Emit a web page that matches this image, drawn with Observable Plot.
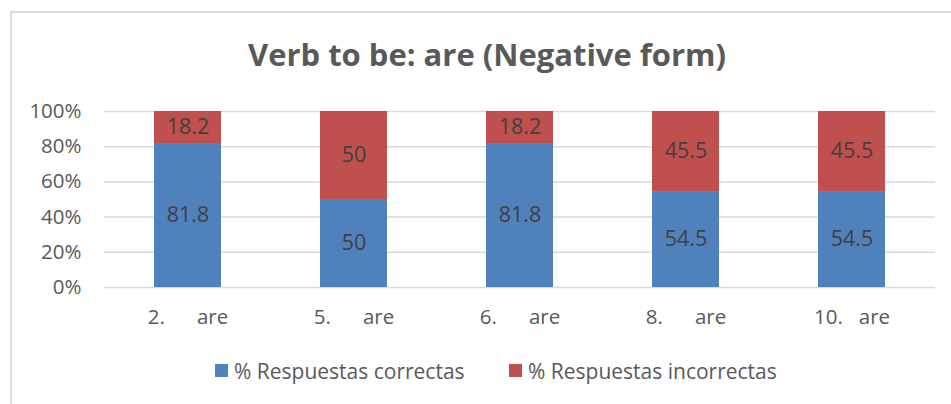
<!DOCTYPE html>
<html>
<head>
<meta charset="utf-8">
<script src="https://cdn.jsdelivr.net/npm/d3@7"></script>
<script src="https://cdn.jsdelivr.net/npm/@observablehq/plot@0.6"></script>
<style>
  body { margin: 0; background: #fff; }
  #wrap { position: relative; width: 951px; height: 404px; overflow: hidden; background: #fff; font-family: 'Open Sans', sans-serif; }
  #frame { position: absolute; left: 10px; top: 11px; width: 1000px; height: 500px; border-left: 2px solid #dcdcdc; border-top: 2px solid #dcdcdc; }
  #title { position: absolute; left: 0; top: 0; }
  #chart { position: absolute; left: 0; top: 0; }
  .leg { position: absolute; top: 357px; font-size: 21px; color: #595959; white-space: nowrap; line-height: 28px; }
  .sw { position: absolute; top: 7px; width: 13px; height: 13px; }
</style>
</head>
<body>
<div id="wrap">
  <div id="frame"></div>
  <div id="chart"></div>
  <svg id="title" width="951" height="90"></svg>
  <div id="legend"></div>
</div>
<script>
const categories = ["2.\u00a0\u00a0\u00a0\u00a0\u00a0\u00a0are", "5.\u00a0\u00a0\u00a0\u00a0\u00a0\u00a0are", "6.\u00a0\u00a0\u00a0\u00a0\u00a0\u00a0are", "8.\u00a0\u00a0\u00a0\u00a0\u00a0\u00a0are", "10.\u00a0\u00a0\u00a0are"];
const seriesNames = ["% Respuestas correctas", "% Respuestas incorrectas"];
const correctas = [81.8, 50, 81.8, 54.5, 54.5];
const incorrectas = [18.2, 50, 18.2, 45.5, 45.5];
const yTicks = [0, 20, 40, 60, 80, 100];
const colors = ["#4F81BD", "#C0504D"];
const titleText = "Verb to be: are (Negative form)";

const data = [];
categories.forEach((c, i) => {
  data.push({cat: c, series: seriesNames[0], value: correctas[i]});
  data.push({cat: c, series: seriesNames[1], value: incorrectas[i]});
});

const chart = Plot.plot({
  width: 951,
  height: 332,
  marginTop: 111,
  marginBottom: 45,
  marginLeft: 104,
  marginRight: 16,
  style: {fontFamily: "'Open Sans', sans-serif", fontSize: "20.5px", color: "#595959", background: "transparent"},
  x: {domain: categories, paddingInner: 0.597, paddingOuter: 0.2985, label: null, tickSize: 0, tickPadding: 22},
  y: {domain: [0, 100], ticks: yTicks, tickFormat: d => d + "%", label: null, tickSize: 0, tickPadding: 23},
  color: {domain: seriesNames, range: colors},
  marks: [
    Plot.ruleY(yTicks, {stroke: "#d9d9d9", strokeWidth: 1.5}),
    Plot.barY(data, Plot.stackY({x: "cat", y: "value", fill: "series", z: "series"})),
    Plot.text(data, Plot.stackY({x: "cat", y: "value", z: "series", text: d => String(d.value), fill: "#404040", fontSize: 21.5}))
  ]
});
document.getElementById("chart").appendChild(chart);

const t = d3.select("#title");
t.append("text")
  .attr("x", 248).attr("y", 66)
  .attr("textLength", 478).attr("lengthAdjust", "spacingAndGlyphs")
  .attr("font-family", "'Open Sans', sans-serif").attr("font-weight", "bold")
  .attr("font-size", 31).attr("fill", "#595959")
  .text(titleText);

const legendPos = [215, 509];
const leg = d3.select("#legend");
seriesNames.forEach((s, i) => {
  const item = leg.append("div").attr("class", "leg").style("left", legendPos[i] + "px");
  item.append("div").attr("class", "sw").style("left", "0px").style("background", colors[i]);
  item.append("span").style("margin-left", "19px").text(s);
});
</script>
</body>
</html>
